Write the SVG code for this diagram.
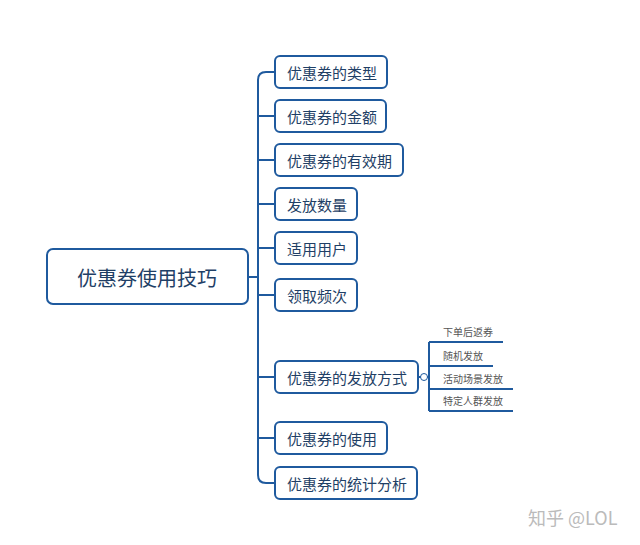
<svg xmlns="http://www.w3.org/2000/svg" width="640" height="545" viewBox="0 0 640 545">
<style>
.n rect{fill:#fff;stroke:#1f5a9e;stroke-width:2}
.t{font-family:"Noto Sans CJK SC",sans-serif;font-size:15px;fill:#1f3f66;dominant-baseline:central}
.s{font-family:"Noto Sans CJK SC",sans-serif;font-size:10px;fill:#555}
.c{fill:none;stroke:#1f5a9e;stroke-width:2}
</style>
<rect width="640" height="545" fill="#fff"/>
<g id="connectors">
<path class="c" d="M248 277H258M258 80Q258 72 266 72H275M258 475Q258 483 266 483H275M258 80V475"/>
<path class="c" d="M258 116H275M258 160H275M258 204H275M258 248H275M258 295H275M258 377H275M258 438H275"/>
<path class="c" stroke-width="1.5" d="M418 377H429M429 342V411M429 342H503M429 366H493M429 389H513M429 411H513"/>
<circle cx="424" cy="377" r="3.5" fill="#fff" stroke="#1f5a9e" stroke-width="1"/>
</g>
<g id="root" class="n"><rect x="47" y="249" width="201" height="55" rx="6"/><text class="t" x="147" y="277" text-anchor="middle" style="font-size:20px">优惠券使用技巧</text></g>
<g id="n1" class="n"><rect x="275" y="56" width="112" height="32" rx="5"/><text class="t" x="287" y="72">优惠券的类型</text></g>
<g id="n2" class="n"><rect x="275" y="100" width="111" height="32" rx="5"/><text class="t" x="287" y="116">优惠券的金额</text></g>
<g id="n3" class="n"><rect x="275" y="144" width="128" height="32" rx="5"/><text class="t" x="287" y="160">优惠券的有效期</text></g>
<g id="n4" class="n"><rect x="275" y="188" width="82" height="32" rx="5"/><text class="t" x="287" y="204">发放数量</text></g>
<g id="n5" class="n"><rect x="275" y="232" width="82" height="32" rx="5"/><text class="t" x="287" y="248">适用用户</text></g>
<g id="n6" class="n"><rect x="275" y="279" width="82" height="32" rx="5"/><text class="t" x="287" y="295">领取频次</text></g>
<g id="n7" class="n"><rect x="275" y="361" width="143" height="32" rx="5"/><text class="t" x="287" y="377">优惠券的发放方式</text></g>
<g id="n8" class="n"><rect x="275" y="422" width="112" height="32" rx="5"/><text class="t" x="287" y="438">优惠券的使用</text></g>
<g id="n9" class="n"><rect x="275" y="467" width="142" height="32" rx="5"/><text class="t" x="287" y="483">优惠券的统计分析</text></g>
<g id="sub">
<text class="s" x="443" y="336">下单后返券</text>
<text class="s" x="443" y="360">随机发放</text>
<text class="s" x="443" y="383">活动场景发放</text>
<text class="s" x="443" y="405">特定人群发放</text>
</g>
<text x="528" y="525" style="font-family:'Noto Sans CJK SC',sans-serif;font-size:18px;fill:#bbb">知乎 @LOL</text>
</svg>
